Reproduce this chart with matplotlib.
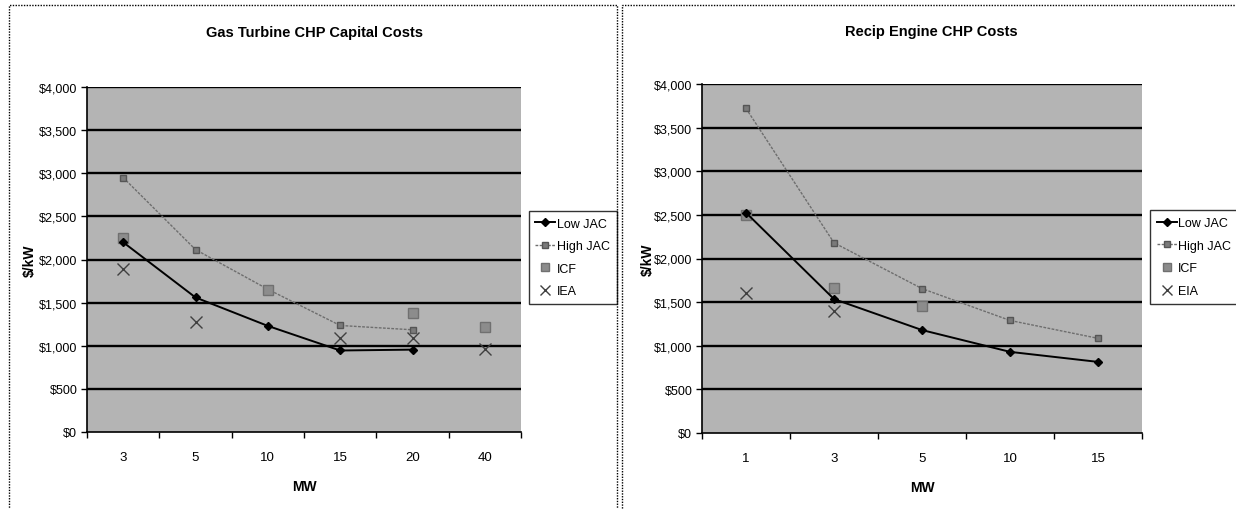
import matplotlib
matplotlib.use("Agg")
import matplotlib.pyplot as plt
import numpy as np
from matplotlib.patches import Rectangle
from matplotlib.lines import Line2D

plt.rcParams['font.family'] = ['Liberation Sans Narrow', 'Liberation Sans', 'DejaVu Sans']

# gas turbine data
gt_mw = ['3', '5', '10', '15', '20', '40']
gt_low_jac = [2200, 1560, 1230, 945, 955, None]
gt_high_jac = [2950, 2115, 1655, 1235, 1185, None]
gt_icf = [2250, None, 1650, None, 1375, 1215]
gt_iea = [1890, 1270, None, 1090, 1090, 965]

# recip engine data
re_mw = ['1', '3', '5', '10', '15']
re_low_jac = [2525, 1535, 1180, 930, 815]
re_high_jac = [3720, 2180, 1655, 1290, 1085]
re_icf = [2495, 1660, 1450, None, None]
re_eia = [1605, 1395, None, None, None]

PLOT_BG = '#b4b4b4'


def pts(vals):
    x = [i for i, v in enumerate(vals) if v is not None]
    y = [v for v in vals if v is not None]
    return x, y


def draw_panel(fig, rect, cats, low, high, icf, other, other_name, title, title_xy, leg_rect, ylab_x):
    ax = fig.add_axes(rect)
    ax.set_facecolor(PLOT_BG)
    n = len(cats)
    ax.set_xlim(-0.5, n - 0.5)
    ax.set_ylim(0, 4000)

    for y in range(500, 4001, 500):
        ax.axhline(y, color='black', lw=1.7, zorder=1)

    x, y = pts(low)
    ax.plot(x, y, color='black', lw=1.4, marker='D', ms=4, zorder=4)
    x, y = pts(high)
    ax.plot(x, y, color='#6e6e6e', lw=1.0, ls=(0, (2, 1)), marker='s', ms=4,
            mfc='#7a7a7a', mec='#555555', zorder=3)
    x, y = pts(icf)
    ax.plot(x, y, ls='none', marker='s', ms=7, mfc='#8c8c8c', mec='#707070', zorder=3)
    x, y = pts(other)
    ax.plot(x, y, ls='none', marker='x', ms=8, mew=1.0, color='#404040', zorder=3)

    ax.set_yticks(range(0, 4001, 500))
    ax.set_yticklabels(['${:,}'.format(v) for v in range(0, 4001, 500)], fontsize=9)
    ax.set_xticks(range(n))
    ax.set_xticklabels(cats, fontsize=9.5)
    ax.set_xticks(np.arange(-0.5, n, 1.0), minor=True)
    ax.tick_params(axis='x', which='major', length=0, pad=14)
    ax.tick_params(axis='x', which='minor', length=4, direction='out', width=1)
    ax.tick_params(axis='y', length=4, direction='out', width=1, pad=3)
    for s in ['top', 'right']:
        ax.spines[s].set_visible(False)
    for s in ['left', 'bottom']:
        ax.spines[s].set_linewidth(1.2)
    ax.set_xlabel('MW', fontsize=10, fontweight='bold', labelpad=11)

    fig.text(ylab_x, rect[1] + rect[3] * 0.5, '$/kW', rotation=90, ha='center', va='center',
             fontsize=10, fontweight='bold')
    fig.text(title_xy[0], title_xy[1], title, ha='center', va='center',
             fontsize=10.5, fontweight='bold')

    handles = [
        Line2D([], [], color='black', lw=1.4, marker='D', ms=4),
        Line2D([], [], color='#6e6e6e', lw=1.0, ls=(0, (2, 1)), marker='s', ms=4,
               mfc='#7a7a7a', mec='#555555'),
        Line2D([], [], ls='none', marker='s', ms=6, mfc='#8c8c8c', mec='#707070'),
        Line2D([], [], ls='none', marker='x', ms=7, color='#404040'),
    ]
    lax = fig.add_axes(leg_rect)
    lax.axis('off')
    leg = lax.legend(handles, ['Low JAC', 'High JAC', 'ICF', other_name], loc='center',
                     fontsize=9, frameon=True, fancybox=False, edgecolor='black',
                     handlelength=1.6, handletextpad=0.1, borderpad=0.55, labelspacing=0.85,
                     borderaxespad=0)
    leg.get_frame().set_linewidth(1.0)
    return ax


fig = plt.figure(figsize=(12.36, 5.10), dpi=100)

# outer panel frames
fig.patches.append(Rectangle((9 / 1236, -0.05), 608 / 1236, 1 - 6 / 510 + 0.05,
                             transform=fig.transFigure, fill=False, ec='black', lw=1.0,
                             ls=(0, (1, 1))))
fig.patches.append(Rectangle((622 / 1236, -0.05), 620 / 1236, 1 - 6 / 510 + 0.05,
                             transform=fig.transFigure, fill=False, ec='black', lw=1.0,
                             ls=(0, (1, 1))))

draw_panel(fig, [87 / 1236, 1 - 433 / 510, 434 / 1236, 345 / 510],
           gt_mw, gt_low_jac, gt_high_jac, gt_icf, gt_iea, 'IEA',
           'Gas Turbine CHP Capital Costs', (314 / 1236, 1 - 33 / 510),
           [531 / 1236, 1 - 309 / 510, 83 / 1236, 101 / 510], 30 / 1236)

draw_panel(fig, [702 / 1236, 1 - 434 / 510, 440 / 1236, 349 / 510],
           re_mw, re_low_jac, re_high_jac, re_icf, re_eia, 'EIA',
           'Recip Engine CHP Costs', (931 / 1236, 1 - 32 / 510),
           [1151 / 1236, 1 - 308 / 510, 86 / 1236, 100 / 510], 648 / 1236)

fig.savefig('out.png', dpi=100)
